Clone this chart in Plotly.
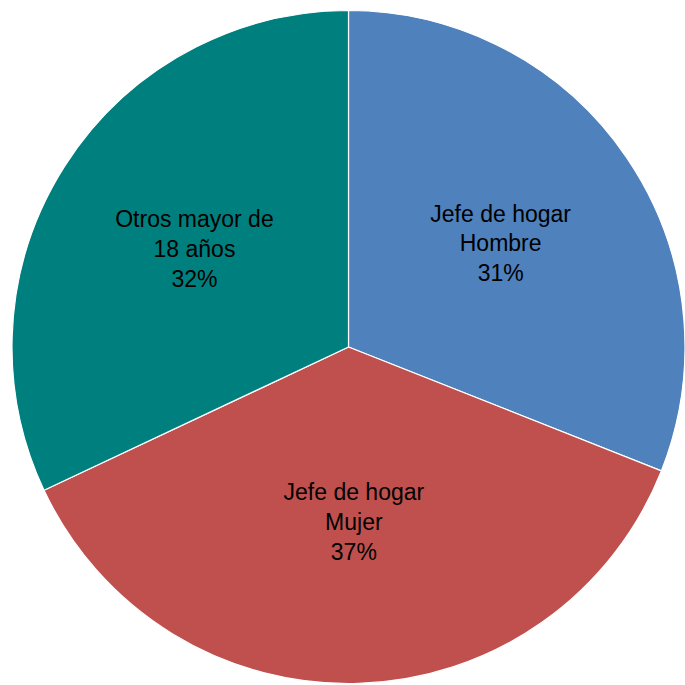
import plotly.graph_objects as go

labels = ['Jefe de hogar<br>Hombre', 'Jefe de hogar<br>Mujer', 'Otros mayor de<br>18 años']
values = [31, 37, 32]
colors = ['#4F81BD', '#C0504D', '#007F7F']

fig = go.Figure(go.Pie(
    labels=labels,
    values=values,
    sort=False,
    direction='clockwise',
    rotation=0,
    marker=dict(colors=colors, line=dict(color='white', width=1.2)),
    texttemplate='%{label}<br>%{percent:.0%}',
    textposition='inside',
    insidetextorientation='horizontal',
    textfont=dict(family='Liberation Sans, Arial', size=23, color='black'),
    hoverinfo='label+percent',
    domain=dict(x=[0, 1], y=[0, 1]),
))

fig.update_layout(
    showlegend=False,
    margin=dict(l=12, r=0, t=9, b=0),
    paper_bgcolor='white',
    uniformtext=dict(minsize=23, mode='show'),
)

# drop the default page margin so the pie can use the whole window
fig.write_html(
    "out.html",
    config={'displayModeBar': False},
    post_script="document.body.style.margin='0px';"
                "Plotly.Plots.resize(document.getElementById('{plot_id}'));",
)
